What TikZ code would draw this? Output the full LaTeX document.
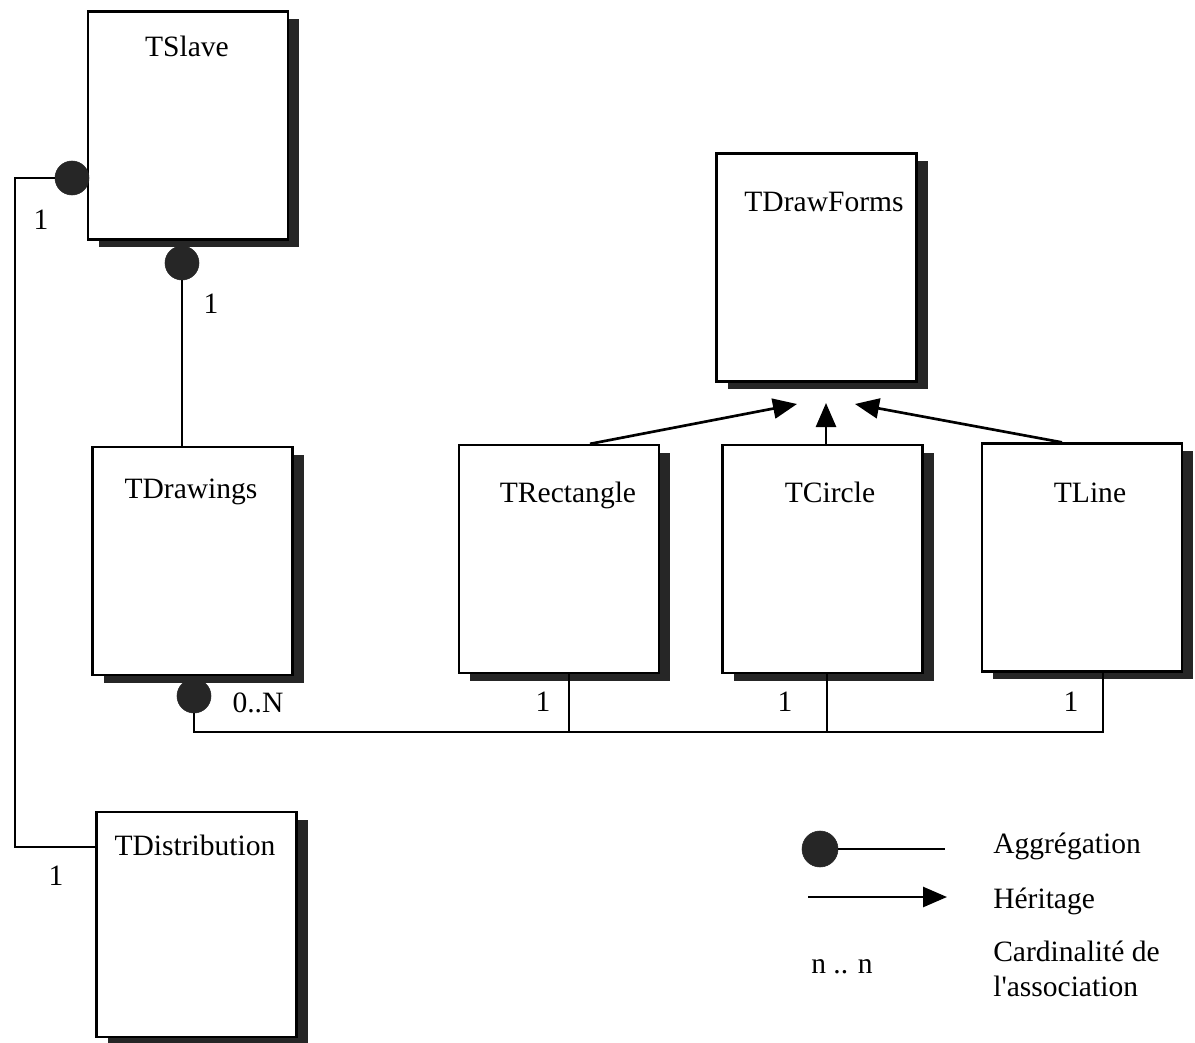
\documentclass[tikz,border=0pt]{standalone}
\usepackage{fontspec}
\setmainfont{Liberation Serif}
\usetikzlibrary{shapes,arrows.meta,positioning,calc,shadows}

\tikzset{
  classbox/.style={draw, line width=1.6pt, fill=white, minimum width=5cm, minimum height=5.7cm, inner sep=0pt,
    drop shadow={shadow xshift=0.28cm, shadow yshift=-0.19cm, fill=black!85, opacity=1}},
  classname/.style={anchor=base, inner sep=0pt},
  card/.style={inner sep=0pt},
  agg/.style={circle, fill=black!85, draw=black!85, minimum size=0.85cm, inner sep=0pt},
  assoc/.style={line width=1.4pt},
  inherit/.style={line width=1.9pt, -{Triangle[length=0.6cm, width=0.5cm]}},
}

\begin{document}
\begin{tikzpicture}[x=0.025cm, y=-0.025cm, font=\fontsize{21}{25}\selectfont]
    \useasboundingbox (0,0) rectangle (1195,1043);

    % Classes
    \node[classbox] (slave) at (188,125.5) {};
    \node[classname] (slaveName) at (187,57) {TSlave};
    \node[classbox] (drawings) at (192.5,561) {};
    \node[classname] (drawingsName) at (191,498) {TDrawings};
    \node[classbox, minimum height=5.625cm] (distrib) at (196.5,924.5) {};
    \node[classname] (distribName) at (195,855) {TDistribution};
    \node[classbox] (forms) at (816.5,267.5) {};
    \node[classname] (formsName) at (824,212) {TDrawForms};
    \node[classbox] (rect) at (559,559) {};
    \node[classname] (rectName) at (568,502) {TRectangle};
    \node[classbox] (circ) at (822.5,559) {};
    \node[classname] (circName) at (830,502) {TCircle};
    \node[classbox] (line) at (1082,557.5) {};
    \node[classname] (lineName) at (1090,502) {TLine};

    % Aggregations
    \node[agg] (aggSlaveL) at (72,178) {};
    \node[agg] (aggSlaveB) at (182,263) {};
    \node[agg] (aggDrawings) at (194,696) {};
    \coordinate (bendL) at (15,178);
    \coordinate (busR) at (1103,732);
    \draw[assoc] (aggSlaveL) -- (bendL) |- ([yshift=-0.9cm]distrib.north west);
    \draw[assoc] (aggSlaveB) -- (aggSlaveB |- drawings.north);
    \draw[assoc] (aggDrawings) |- (busR) -- (busR |- line.south);
    \draw[assoc] (569,0 |- rect.south) -- (569,0 |- busR);
    \draw[assoc] (827,0 |- circ.south) -- (827,0 |- busR);

    % Cardinalities
    \node[card] (cSlaveL) at (41,220) {1};
    \node[card] (cSlaveB) at (211,304) {1};
    \node[card] (cDrawings) at (258,703) {0..N};
    \node[card] (cDistrib) at (56,876) {1};
    \node[card] (cRect) at (543,702) {1};
    \node[card] (cCirc) at (785,702) {1};
    \node[card] (cLine) at (1071,702) {1};

    % Inheritance
    \coordinate (tipL) at (797,404);
    \coordinate (tipM) at (826,403);
    \coordinate (tipR) at (855,404);
    \draw[inherit] (590,0 |- rect.north) -- (tipL);
    \draw[inherit] (826,0 |- circ.north) -- (tipM);
    \draw[inherit] (1062,0 |- line.north) -- (tipR);

    % Legend
    \node[agg, minimum size=0.9cm] (legAgg) at (820,849) {};
    \coordinate (legAggEnd) at (945,849);
    \draw[assoc] (legAgg) -- (legAggEnd);
    \node[anchor=base west, inner sep=0pt] (legAggText) at (993,853) {Aggrégation};
    \coordinate (legArrStart) at (808,897);
    \coordinate (legArrEnd) at (947,897);
    \draw[inherit] (legArrStart) -- (legArrEnd);
    \node[anchor=base west, inner sep=0pt] (legInhText) at (993,908) {Héritage};
    \node[anchor=base, inner sep=0pt] (legCard) at (842,973) {n .. n};
    \node[anchor=north west, inner sep=0pt, align=left] (legCardText) at (993,941) {Cardinalité de\\l\textquotesingle association};
\end{tikzpicture}
\end{document}
